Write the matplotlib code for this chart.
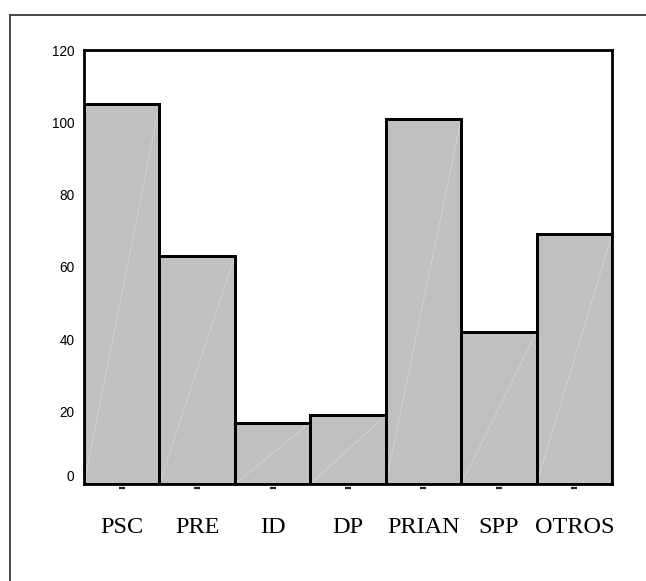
import matplotlib
matplotlib.use("Agg")
import matplotlib.pyplot as plt
from matplotlib.lines import Line2D
from matplotlib.transforms import ScaledTranslation
import numpy as np

categories = ["PSC", "PRE", "ID", "DP", "PRIAN", "SPP", "OTROS"]
values = [105, 63, 17, 19, 101, 42, 69]
yticks = [0, 20, 40, 60, 80, 100, 120]

W, H, DPI = 646, 581, 100
fig = plt.figure(figsize=(W / DPI, H / DPI), dpi=DPI)
fig.patch.set_facecolor("white")

# outer frame (left and top edges visible, runs off right/bottom)
fcol = "#3a3a3a"
fig.add_artist(Line2D([10 / W, 10 / W], [0, 1 - 15 / H], transform=fig.transFigure,
                      color=fcol, lw=1.3))
fig.add_artist(Line2D([10 / W, 1], [1 - 15 / H, 1 - 15 / H], transform=fig.transFigure,
                      color=fcol, lw=1.3))

ax = fig.add_axes([84 / W, 1 - 484 / H, (612 - 84) / W, (484 - 50) / H])
x = np.arange(len(categories))
bars = ax.bar(x, values, width=1.0, color="#c0c0c0", edgecolor="black", linewidth=2.0,
              zorder=2)
# faint diagonal lines inside each bar (bottom-left to top-right)
for b in bars:
    x0, y0 = b.get_x(), b.get_y()
    ln, = ax.plot([x0, x0 + b.get_width()], [y0, y0 + b.get_height()], color="#d4d4d4",
                  lw=0.6, zorder=1.95)
for b in bars:
    b.set_zorder(1.9)
# redraw edges on top of the diagonals
ax.bar(x, values, width=1.0, color="none", edgecolor="black", linewidth=2.0, zorder=2.1)

ax.set_xlim(-0.5, len(categories) - 0.5)
ax.set_ylim(0, 120)
ax.set_yticks(yticks)
ax.set_yticklabels([str(v) for v in yticks], fontfamily="Liberation Sans", fontsize=9.8)
ax.set_xticks(x)
ax.set_xticklabels(categories, fontfamily="Liberation Serif", fontsize=17.5)
ax.tick_params(axis="y", length=0, pad=7)
ax.tick_params(axis="x", length=0, pad=23.5)
ax.get_yticklabels()[0].set_va("bottom")

for s in ax.spines.values():
    s.set_linewidth(2.0)
    s.set_color("black")
    s.set_zorder(3)

# small dash marks below the axis at each category
trans = ax.get_xaxis_transform() + ScaledTranslation(0, -4 / DPI, fig.dpi_scale_trans)
ax.plot(x, np.zeros(len(x)), linestyle="none", marker="_", markersize=5,
        markeredgewidth=1.6, color="#222222", transform=trans, clip_on=False)

fig.savefig("out.png", dpi=DPI)
